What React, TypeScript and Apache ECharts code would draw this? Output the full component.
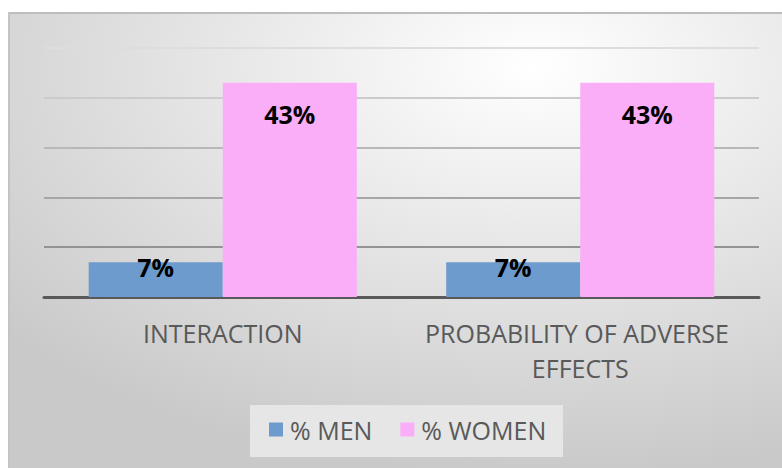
import React, { useEffect, useRef } from "react";
import * as echarts from "echarts";

// Chart data
const categories = ["INTERACTION", "PROBABILITY OF ADVERSE EFFECTS"];
const seriesNames = ["% MEN", "% WOMEN"];
const menValues = [7, 7];
const womenValues = [43, 43];
const yTicks = { min: 0, max: 50, interval: 10 };

const FONT = "'Open Sans', 'Noto Sans', sans-serif";

export default function App() {
  const ref = useRef<HTMLDivElement>(null);

  useEffect(() => {
    if (!ref.current) return;
    const chart = echarts.init(ref.current, null, { renderer: "svg" });

    const labelStyle = {
      show: true,
      formatter: (p: any) => `${Math.round(p.value)}%`,
      fontFamily: FONT,
      fontWeight: "bold" as const,
      fontSize: 25,
      color: "#000000",
      align: "center" as const,
      verticalAlign: "middle" as const,
    };

    chart.setOption({
      animation: false,
      backgroundColor: "#ffffff",
      graphic: [
        {
          type: "rect",
          z: -10,
          shape: { x: 8, y: 12, width: 774, height: 456 },
          style: {
            fill: {
              type: "radial",
              x: 0.68,
              y: 0.12,
              r: 0.9,
              colorStops: [
                { offset: 0, color: "#ffffff" },
                { offset: 1, color: "#c9c9c9" },
              ],
            },
          },
        },
        {
          type: "line",
          z: -9,
          shape: { x1: 8, y1: 13, x2: 782, y2: 13 },
          style: { stroke: "#bdbdbd", lineWidth: 2 },
        },
        {
          type: "line",
          z: -9,
          shape: { x1: 9, y1: 12, x2: 9, y2: 468 },
          style: { stroke: "#c4c4c4", lineWidth: 2 },
        },
        {
          type: "rect",
          z: -8,
          shape: { x: 250, y: 405, width: 313, height: 52 },
          style: { fill: "#e6e6e6" },
        },
      ],
      grid: { left: 44, right: 23, top: 48, bottom: 171, containLabel: false },
      legend: {
        data: seriesNames,
        left: 269,
        top: 417,
        padding: 0,
        icon: "rect",
        itemWidth: 14,
        itemHeight: 14,
        itemGap: 28,
        textStyle: {
          fontFamily: FONT,
          fontSize: 25,
          color: "#595959",
          padding: [0, 0, 0, 2],
        },
      },
      xAxis: {
        type: "category",
        data: categories,
        axisLine: { lineStyle: { color: "#595959", width: 3 } },
        axisTick: { show: false },
        axisLabel: {
          fontFamily: FONT,
          fontSize: 25,
          color: "#595959",
          lineHeight: 35,
          margin: 18,
          width: 340,
          overflow: "break",
          interval: 0,
        },
      },
      yAxis: {
        type: "value",
        min: yTicks.min,
        max: yTicks.max,
        interval: yTicks.interval,
        axisLabel: { show: false },
        axisLine: { show: false },
        axisTick: { show: false },
        splitLine: {
          show: true,
          lineStyle: {
            width: 2,
            color: ["#595959", "#939393", "#a6a6a6", "#b8b8b8", "#cbcbcb", "#dddddd"],
          },
        },
      },
      series: [
        {
          name: seriesNames[0],
          type: "bar",
          data: menValues,
          barGap: "0%",
          barCategoryGap: "25%",
          itemStyle: { color: "#6e9bcd" },
          label: { ...labelStyle, position: ["50%", 5] },
        },
        {
          name: seriesNames[1],
          type: "bar",
          data: womenValues,
          barGap: "0%",
          barCategoryGap: "25%",
          itemStyle: { color: "#faaef8" },
          label: { ...labelStyle, position: ["50%", 31] },
        },
      ],
    });

    return () => chart.dispose();
  }, []);

  return (
    <div
      ref={ref}
      style={{ position: "fixed", left: 0, top: 0, width: 782, height: 468 }}
    />
  );
}
